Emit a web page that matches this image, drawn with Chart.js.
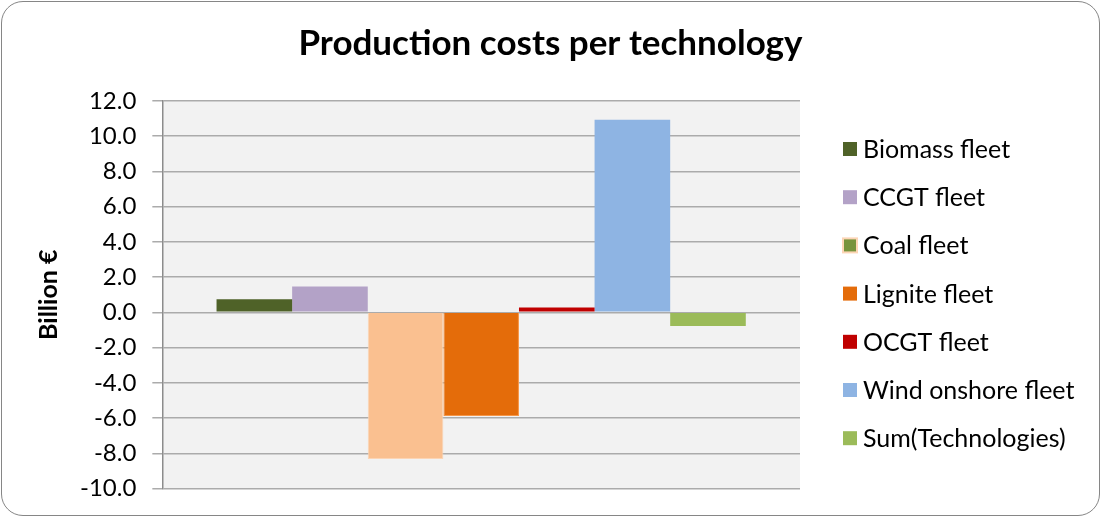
<!DOCTYPE html>
<html>
<head>
<meta charset="utf-8">
<script src="https://cdn.jsdelivr.net/npm/chart.js@4.4.1/dist/chart.umd.min.js"></script>
<style>
    html, body { margin: 0; padding: 0; background: #fff; }
    #frame {
        position: absolute; left: 1px; top: 1px;
        width: 1097px; height: 513px;
        border: 1.5px solid #868686; border-radius: 22px;
        overflow: hidden; background: #fff;
    }
    #chart { display: block; }
</style>
</head>
<body>
<div id="frame"><canvas id="chart" width="1097" height="513"></canvas></div>
<script>
    // Production cost change per technology, billion euro
    const categories = [""];
    const technologies = [
        "Biomass fleet", "CCGT fleet", "Coal fleet", "Lignite fleet",
        "OCGT fleet", "Wind onshore fleet", "Sum(Technologies)"
    ];
    const costs = [0.74, 1.47, -8.33, -5.88, 0.28, 10.94, -0.77];
    const fillColors = ["#4f6228", "#b3a2c7", "#fac090", "#e46c0a", "#c00000", "#8eb4e3", "#9bbb59"];
    const borderColors = ["#4f6228", "#b3a2c7", "#fcd5b5", "#f79646", "#c00000", "#8eb4e3", "#9bbb59"];
    const yTicks = { min: -10, max: 12, step: 2 };

    const FONT = "Lato, 'Open Sans', sans-serif";

    // shade the plot area like a spreadsheet chart
    const plotBackground = {
        id: "plotBackground",
        beforeDraw(chart) {
            const { ctx, chartArea: a } = chart;
            ctx.save();
            ctx.fillStyle = "#f2f2f2";
            ctx.fillRect(a.left, a.top, a.right - a.left, a.bottom - a.top);
            ctx.restore();
        },
    };

    // centre the title over the whole canvas, not just the padded area
    const wideTitle = {
        id: "wideTitle",
        afterLayout(chart) {
            const t = chart.titleBlock;
            if (!t) return;
            t.left = 0;
            t.right = chart.width;
            t.width = chart.width;
        },
    };

    // legend column to the right of the plot, one entry per dataset
    const sideLegend = {
        id: "sideLegend",
        afterDraw(chart) {
            const { ctx, chartArea: a } = chart;
            const x = a.right + 43;
            const rowGap = 48.2;
            const y0 = a.top + 48;
            ctx.save();
            ctx.font = "25px " + FONT;
            ctx.textBaseline = "middle";
            chart.data.datasets.forEach((ds, i) => {
                const y = y0 + i * rowGap;
                if (i === 2) {
                    // the coal swatch shows a green fill with a peach rim
                    ctx.fillStyle = "#fcd5b5";
                    ctx.fillRect(x - 1, y - 8, 16, 16);
                    ctx.fillStyle = "#77933c";
                    ctx.fillRect(x + 1, y - 6, 12, 12);
                } else {
                    ctx.fillStyle = fillColors[i];
                    ctx.fillRect(x, y - 7, 14, 14);
                }
                ctx.fillStyle = "#000";
                ctx.fillText(ds.label, x + 20, y + 1);
            });
            ctx.restore();
        },
    };

    const datasets = technologies.map((name, i) => ({
        label: name,
        data: [costs[i]],
        backgroundColor: fillColors[i],
        borderColor: borderColors[i],
        borderWidth: i === 2 || i === 3 ? 1 : 0,
        barPercentage: 1.0,
        categoryPercentage: 0.83,
    }));

    const ctx = document.getElementById("chart").getContext("2d");
    new Chart(ctx, {
        type: "bar",
        data: { labels: categories, datasets: datasets },
        plugins: [plotBackground, wideTitle, sideLegend],
        options: {
            responsive: false,
            animation: false,
            layout: { padding: { left: 32, right: 299, top: 0, bottom: 26.5 } },
            scales: {
                x: { display: false },
                y: {
                    min: yTicks.min,
                    max: yTicks.max,
                    // the label gap should not push the plot away from the bottom edge
                    afterFit: (scale) => {
                        scale.paddingBottom = 0;
                    },
                    ticks: {
                        stepSize: yTicks.step,
                        color: "#000",
                        font: { family: FONT, size: 24 },
                        padding: 16,
                        callback: (v) => v.toFixed(1),
                    },
                    grid: { color: "#ababab", lineWidth: 1.5, tickLength: 10 },
                    border: { color: "#8c8c8c", width: 1.5 },
                    title: {
                        display: true,
                        text: "Billion €",
                        color: "#000",
                        font: { family: FONT, size: 25, weight: "bold" },
                        padding: { top: 0, bottom: 0 },
                    },
                },
            },
            plugins: {
                title: {
                    display: true,
                    text: "Production costs per technology",
                    color: "#000",
                    font: { family: FONT, size: 35, weight: "bold" },
                    padding: { top: 21, bottom: 36 },
                },
                legend: { display: false },
                tooltip: { enabled: false },
            },
        },
    });
</script>
</body>
</html>
